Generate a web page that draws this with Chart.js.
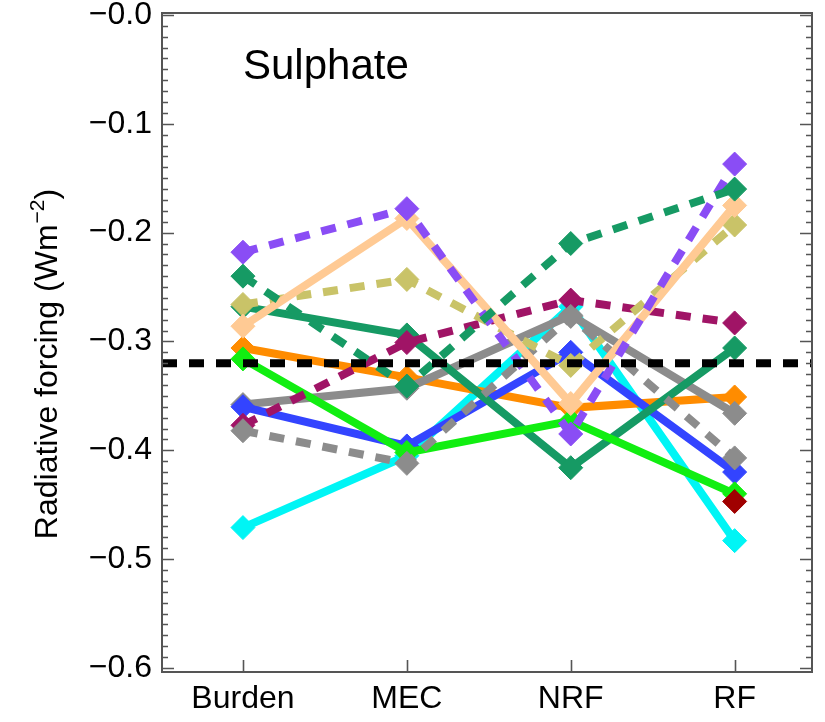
<!DOCTYPE html>
<html>
<head>
<meta charset="utf-8">
<script src="https://cdn.jsdelivr.net/npm/chart.js@4/dist/chart.umd.min.js"></script>
<style>
html,body{margin:0;padding:0;background:#fff;}
#wrap{width:825px;height:722px;position:relative;}
</style>
</head>
<body>
<div id="wrap"><canvas id="c" width="825" height="722"></canvas></div>
<script>
// ---- data ----
const categories = ['Burden', 'MEC', 'NRF', 'RF'];
const yTickValues = [0, -0.1, -0.2, -0.3, -0.4, -0.5, -0.6];
const referenceLine = -0.320;

const cyanSolid     = [-0.471, -0.405, -0.268, -0.483];
const orangeSolid   = [-0.306, -0.333, -0.361, -0.351];
const graySolid     = [-0.358, -0.343, -0.276, -0.366];
const blueSolid     = [-0.360, -0.396, -0.310, -0.420];
const greenSolid    = [-0.268, -0.294, -0.416, -0.306];
const limeSolid     = [-0.316, -0.402, -0.373, -0.440];
const darkRedPoint  = [null, null, null, -0.447];
const maroonDashed  = [-0.377, -0.301, -0.262, -0.283];
const grayDashed    = [-0.382, -0.412, -0.277, -0.407];
const khakiDashed   = [-0.266, -0.243, -0.322, -0.193];
const peachSolid    = [-0.286, -0.187, -0.357, -0.175];
const purpleDashed  = [-0.218, -0.178, -0.385, -0.137];
const greenDashed   = [-0.240, -0.341, -0.210, -0.160];

// series: bottom -> top drawing order
const series = [
  {values: cyanSolid,    color: '#00F5F5', dashed: false},
  {values: orangeSolid,  color: '#FF8C00', dashed: false},
  {values: graySolid,    color: '#8C8C8C', dashed: false},
  {values: blueSolid,    color: '#3344FF', dashed: false},
  {values: greenSolid,   color: '#169A64', dashed: false},
  {values: limeSolid,    color: '#11EE11', dashed: false},
  {values: darkRedPoint, color: '#A00000', dashed: false},
  {values: maroonDashed, color: '#A01466', dashed: true},
  {values: grayDashed,   color: '#8C8C8C', dashed: true},
  {values: khakiDashed,  color: '#C9C368', dashed: true},
  {values: peachSolid,   color: '#FFCA94', dashed: false},
  {values: purpleDashed, color: '#8A4DF5', dashed: true},
  {values: greenDashed,  color: '#169A64', dashed: true}
];

const FONT = "'Liberation Sans', Arial, Helvetica, sans-serif";
const MINUS = '\u2212';

const datasets = series.map((s, i) => ({
  data: s.values.map((v, k) => ({x: k, y: v})),
  borderColor: s.color,
  backgroundColor: s.color,
  borderWidth: 8,
  borderDash: s.dashed ? [15, 12] : [],
  borderCapStyle: 'butt',
  tension: 0,
  spanGaps: false,
  pointStyle: 'rectRot',
  pointRadius: 12,
  pointBackgroundColor: s.color,
  pointBorderColor: s.color,
  pointBorderWidth: 1,
  order: series.length - i
}));

const decor = {
  id: 'decor',
  afterDatasetsDraw(chart) {
    const {ctx, chartArea: a, scales: {x, y}} = chart;
    ctx.save();
    // reference dashed line
    const yr = y.getPixelForValue(referenceLine);
    ctx.strokeStyle = '#000';
    ctx.lineWidth = 8;
    ctx.setLineDash([15, 12]);
    ctx.lineCap = 'butt';
    ctx.beginPath();
    ctx.moveTo(a.left, yr);
    ctx.lineTo(a.right, yr);
    ctx.stroke();
    ctx.setLineDash([]);

    // minor / major ticks on y (inward, both sides)
    ctx.strokeStyle = '#555';
    ctx.lineWidth = 1.6;
    for (let k = 0; k <= 60; k++) {
      const v = -k / 100;
      const py = Math.round(y.getPixelForValue(v)) + 0.5;
      const len = (k % 10 === 0) ? 12 : 6;
      ctx.beginPath();
      ctx.moveTo(a.left, py); ctx.lineTo(a.left + len, py);
      ctx.moveTo(a.right, py); ctx.lineTo(a.right - len, py);
      ctx.stroke();
    }
    // x ticks (inward from bottom)
    for (let k = 0; k < categories.length; k++) {
      const px = Math.round(x.getPixelForValue(k)) + 0.5;
      ctx.beginPath();
      ctx.moveTo(px, a.bottom); ctx.lineTo(px, a.bottom - 12);
      ctx.stroke();
    }
    // frame
    ctx.lineWidth = 2;
    ctx.strokeStyle = '#555';
    ctx.strokeRect(a.left, a.top, a.right - a.left, a.bottom - a.top);

    // panel title
    ctx.fillStyle = '#000';
    ctx.font = '42px ' + FONT;
    ctx.textAlign = 'left';
    ctx.textBaseline = 'alphabetic';
    ctx.fillText('Sulphate', x.getPixelForValue(0), a.top + 66);

    // y-axis title with superscript
    const main = 'Radiative forcing (Wm';
    const sup = MINUS + '2';
    const close = ')';
    ctx.font = '32px ' + FONT;
    const wMain = ctx.measureText(main).width;
    const wClose = ctx.measureText(close).width;
    ctx.font = '21px ' + FONT;
    const wSup = ctx.measureText(sup).width;
    const total = wMain + wSup + wClose;
    const cy = (a.top + a.bottom) / 2 + 22;
    ctx.translate(57, cy + total / 2);
    ctx.rotate(-Math.PI / 2);
    ctx.font = '32px ' + FONT;
    ctx.fillText(main, 0, 0);
    ctx.font = '21px ' + FONT;
    ctx.fillText(sup, wMain + 1, -13);
    ctx.font = '32px ' + FONT;
    ctx.fillText(close, wMain + wSup + 1, 0);
    ctx.restore();
  }
};

new Chart(document.getElementById('c'), {
  type: 'line',
  data: {datasets},
  options: {
    responsive: false,
    animation: false,
    devicePixelRatio: 1,
    layout: {padding: {top: 12, right: 12, left: 0, bottom: 0}},
    plugins: {legend: {display: false}, tooltip: {enabled: false}},
    scales: {
      x: {
        type: 'linear',
        min: -0.494,
        max: 3.472,
        afterBuildTicks(s) { s.ticks = categories.map((c, i) => ({value: i})); },
        grid: {display: false, drawTicks: false},
        border: {display: false},
        ticks: {
          autoSkip: false,
          maxRotation: 0,
          padding: 8,
          color: '#000',
          font: {family: FONT, size: 32},
          callback: (v) => categories[v] ?? ''
        },
        afterFit(s) { s.height = 50; s.paddingLeft = 0; s.paddingRight = 0; }
      },
      y: {
        type: 'linear',
        min: -0.6037,
        max: 0.0018,
        afterBuildTicks(s) { s.ticks = yTickValues.map(v => ({value: v})); },
        grid: {display: false, drawTicks: false},
        border: {display: false},
        ticks: {
          autoSkip: false,
          padding: 10,
          color: '#000',
          font: {family: FONT, size: 32},
          callback: (v) => MINUS + Math.abs(v).toFixed(1)
        },
        afterFit(s) { s.width = 162; s.paddingTop = 0; s.paddingBottom = 0; }
      }
    }
  },
  plugins: [decor]
});
</script>
</body>
</html>
